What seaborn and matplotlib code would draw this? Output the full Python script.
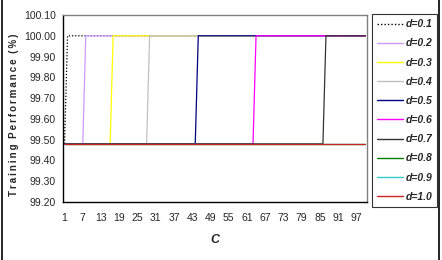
import numpy as np
import pandas as pd
import matplotlib
matplotlib.use("Agg")
import matplotlib.pyplot as plt
import seaborn as sns
from matplotlib.lines import Line2D

# ---- data ----
c_values = list(range(1, 101))
d_labels = ["d=0.1", "d=0.2", "d=0.3", "d=0.4", "d=0.5",
            "d=0.6", "d=0.7", "d=0.8", "d=0.9", "d=1.0"]
# last C value at the low level for each series (100 = never rises)
last_low_c = [1, 7, 16, 28, 44, 63, 86, 100, 100, 100]
low_level = 99.48
high_level = 100.00
colors = ["#000000", "#CC99FF", "#FFFF00", "#C0C0C0", "#000080",
          "#FF00FF", "#333333", "#008000", "#33CCCC", "#CC2222"]
y_ticks = [99.20, 99.30, 99.40, 99.50, 99.60, 99.70, 99.80, 99.90, 100.00, 100.10]
x_tick_labels = list(range(1, 101, 6))

rows = []
for lab, lastc in zip(d_labels, last_low_c):
    for c in c_values:
        rows.append({"C": c, "perf": low_level if c <= lastc else high_level, "d": lab})
df = pd.DataFrame(rows)

sns.set_theme(style="white")
plt.rcParams["font.family"] = ["Liberation Sans", "DejaVu Sans"]

W, H = 442, 260
fig = plt.figure(figsize=(W / 100, H / 100), dpi=100)
ax = fig.add_axes([63 / W, 1 - 202 / H, (367 - 63) / W, (202 - 15) / H])

palette = dict(zip(d_labels, colors))
dashes = {lab: (1, 1.5) if lab == "d=0.1" else "" for lab in d_labels}
sns.lineplot(data=df, x="C", y="perf", hue="d", style="d", palette=palette,
             dashes=dashes, linewidth=0.9, ax=ax, legend=False,
             estimator=None, sort=False)

ax.set_xlim(0.5, 100.5)
ax.set_ylim(99.20, 100.10)
ax.set_yticks(y_ticks)
ax.set_yticklabels([f"{v:.2f}" for v in y_ticks], fontsize=7.5,
                   family=["Liberation Sans Narrow", "Liberation Sans"])
ax.set_xticks(x_tick_labels)
ax.set_xticklabels([str(v) for v in x_tick_labels], fontsize=7.5,
                   family=["Liberation Sans Narrow", "Liberation Sans"])
ax.set_xticks(np.arange(0.5, 101, 1.0), minor=True)
ax.tick_params(axis="x", which="major", length=0, pad=8)
ax.tick_params(axis="x", which="minor", length=3, width=0.8, color="black", direction="out")
ax.tick_params(axis="y", which="major", length=3, width=0.8, color="black", direction="out", pad=2)

for side in ["top", "right"]:
    ax.spines[side].set_color("#808080")
    ax.spines[side].set_linewidth(1.0)
for side in ["left", "bottom"]:
    ax.spines[side].set_color("black")
    ax.spines[side].set_linewidth(1.0)

ax.set_xlabel("C", fontsize=9, fontweight="bold", fontstyle="italic", labelpad=8)
ax.set_ylabel("")
ylab = "  ".join("\u2009".join(word) for word in ["Training", "Performance", "(%)"])
fig.text(14 / W, 1 - 115 / H, ylab, rotation=90, ha="center", va="center",
         fontsize=7.0, fontweight="bold")

handles = [Line2D([], [], color=col, lw=1.0,
                  linestyle=(0, (1, 1.5)) if lab == "d=0.1" else "-")
           for lab, col in zip(d_labels, colors)]
leg = fig.legend(handles, d_labels, loc="upper left",
                 bbox_to_anchor=(372 / W, 1 - 14 / H), bbox_transform=fig.transFigure,
                 frameon=True, fancybox=False, edgecolor="black",
                 prop={"size": 7.5, "weight": "bold", "style": "italic"},
                 handlelength=2.45, handletextpad=0.25, labelspacing=0.88,
                 borderpad=0.5, borderaxespad=0, markerfirst=True)
leg.get_frame().set_linewidth(0.8)

# figure side borders
fig.add_artist(Line2D([2 / W, 2 / W], [0, 1], color="black", lw=1.2, transform=fig.transFigure))
fig.add_artist(Line2D([439 / W, 439 / W], [0, 1], color="black", lw=1.2, transform=fig.transFigure))

fig.savefig("out.png", dpi=100)
